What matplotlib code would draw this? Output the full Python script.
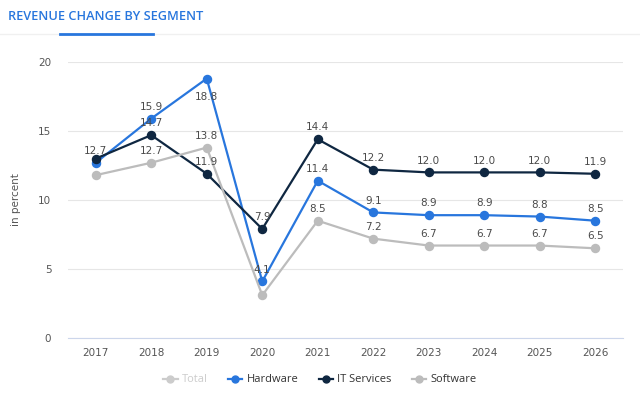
import numpy as np
import matplotlib
matplotlib.use("Agg")
import matplotlib.pyplot as plt
from matplotlib.lines import Line2D

years = ["2017", "2018", "2019", "2020", "2021", "2022", "2023", "2024", "2025", "2026"]
hardware = [12.7, 15.9, 18.8, 4.1, 11.4, 9.1, 8.9, 8.9, 8.8, 8.5]
it_services = [13.0, 14.7, 11.9, 7.9, 14.4, 12.2, 12.0, 12.0, 12.0, 11.9]
software = [11.8, 12.7, 13.8, 3.1, 8.5, 7.2, 6.7, 6.7, 6.7, 6.5]
y_ticks = [0, 5, 10, 15, 20]

# labels hidden by overlap in the original (series, index)
hidden = {("it", 0), ("sw", 0), ("sw", 3)}
below = {("hw", 2)}

c_hw = "#2876dd"
c_it = "#0f2741"
c_sw = "#bcbcbc"

fig = plt.figure(figsize=(6.4, 3.96), dpi=100)
ax = fig.add_axes([68/640, 1-338/396, (623-68)/640, (338-62)/396])

x = np.arange(len(years))
series = [("hw", hardware, c_hw), ("it", it_services, c_it), ("sw", software, c_sw)]
for z, (key, vals, col) in enumerate(series):
    ax.plot(x, vals, color=col, lw=1.6, marker="o", ms=5.8, zorder=3+z)
    for i, v in enumerate(vals):
        if (key, i) in hidden:
            continue
        off = -13 if (key, i) in below else 8.5
        ax.annotate(f"{v:.1f}", (i, v), xytext=(0, off), textcoords="offset points",
                    ha="center", va="center", fontsize=7.5, color="#4a4a4a", zorder=10)

ax.set_xlim(-0.5, len(years) - 0.5)
ax.set_ylim(0, 20)
ax.set_yticks(y_ticks)
ax.set_xticks(x)
ax.set_xticklabels(years)
ax.tick_params(length=0, labelsize=7.5, labelcolor="#555555")
ax.tick_params(axis="y", pad=12)
ax.tick_params(axis="x", pad=7)
ax.grid(axis="y", color="#e6e6e6", lw=0.8)
ax.set_axisbelow(True)
for s in ["top", "right", "left"]:
    ax.spines[s].set_visible(False)
ax.spines["bottom"].set_color("#ccd6eb")
ax.spines["bottom"].set_zorder(2)
ax.set_ylabel("in percent", fontsize=7.5, color="#555555", labelpad=12)

fig.text(8/640, 1-16/396, "REVENUE CHANGE BY SEGMENT", fontsize=9.2, color="#2876dd",
         family="Open Sans", weight="semibold", va="center", ha="left")
fig.add_artist(Line2D([0, 1], [1-34/396, 1-34/396], color="#f0f0f0", lw=1))
fig.add_artist(Line2D([60/640, 153/640], [1-33.5/396, 1-33.5/396], color="#2876dd", lw=2))

handles = [
    Line2D([], [], color="#cccccc", marker="o", ms=5, lw=1.6),
    Line2D([], [], color=c_hw, marker="o", ms=5, lw=1.6),
    Line2D([], [], color=c_it, marker="o", ms=5, lw=1.6),
    Line2D([], [], color=c_sw, marker="o", ms=5, lw=1.6),
]
leg = fig.legend(handles, ["Total", "Hardware", "IT Services", "Software"],
                 loc="center", bbox_to_anchor=(320/640, 1-380/396), ncol=4,
                 frameon=False, prop={"family": "Open Sans", "size": 8},
                 handlelength=1.3, handletextpad=0.4, columnspacing=1.8)
for t, c in zip(leg.get_texts(), ["#cccccc", "#333333", "#333333", "#333333"]):
    t.set_color(c)

fig.savefig("out.png", dpi=100)
